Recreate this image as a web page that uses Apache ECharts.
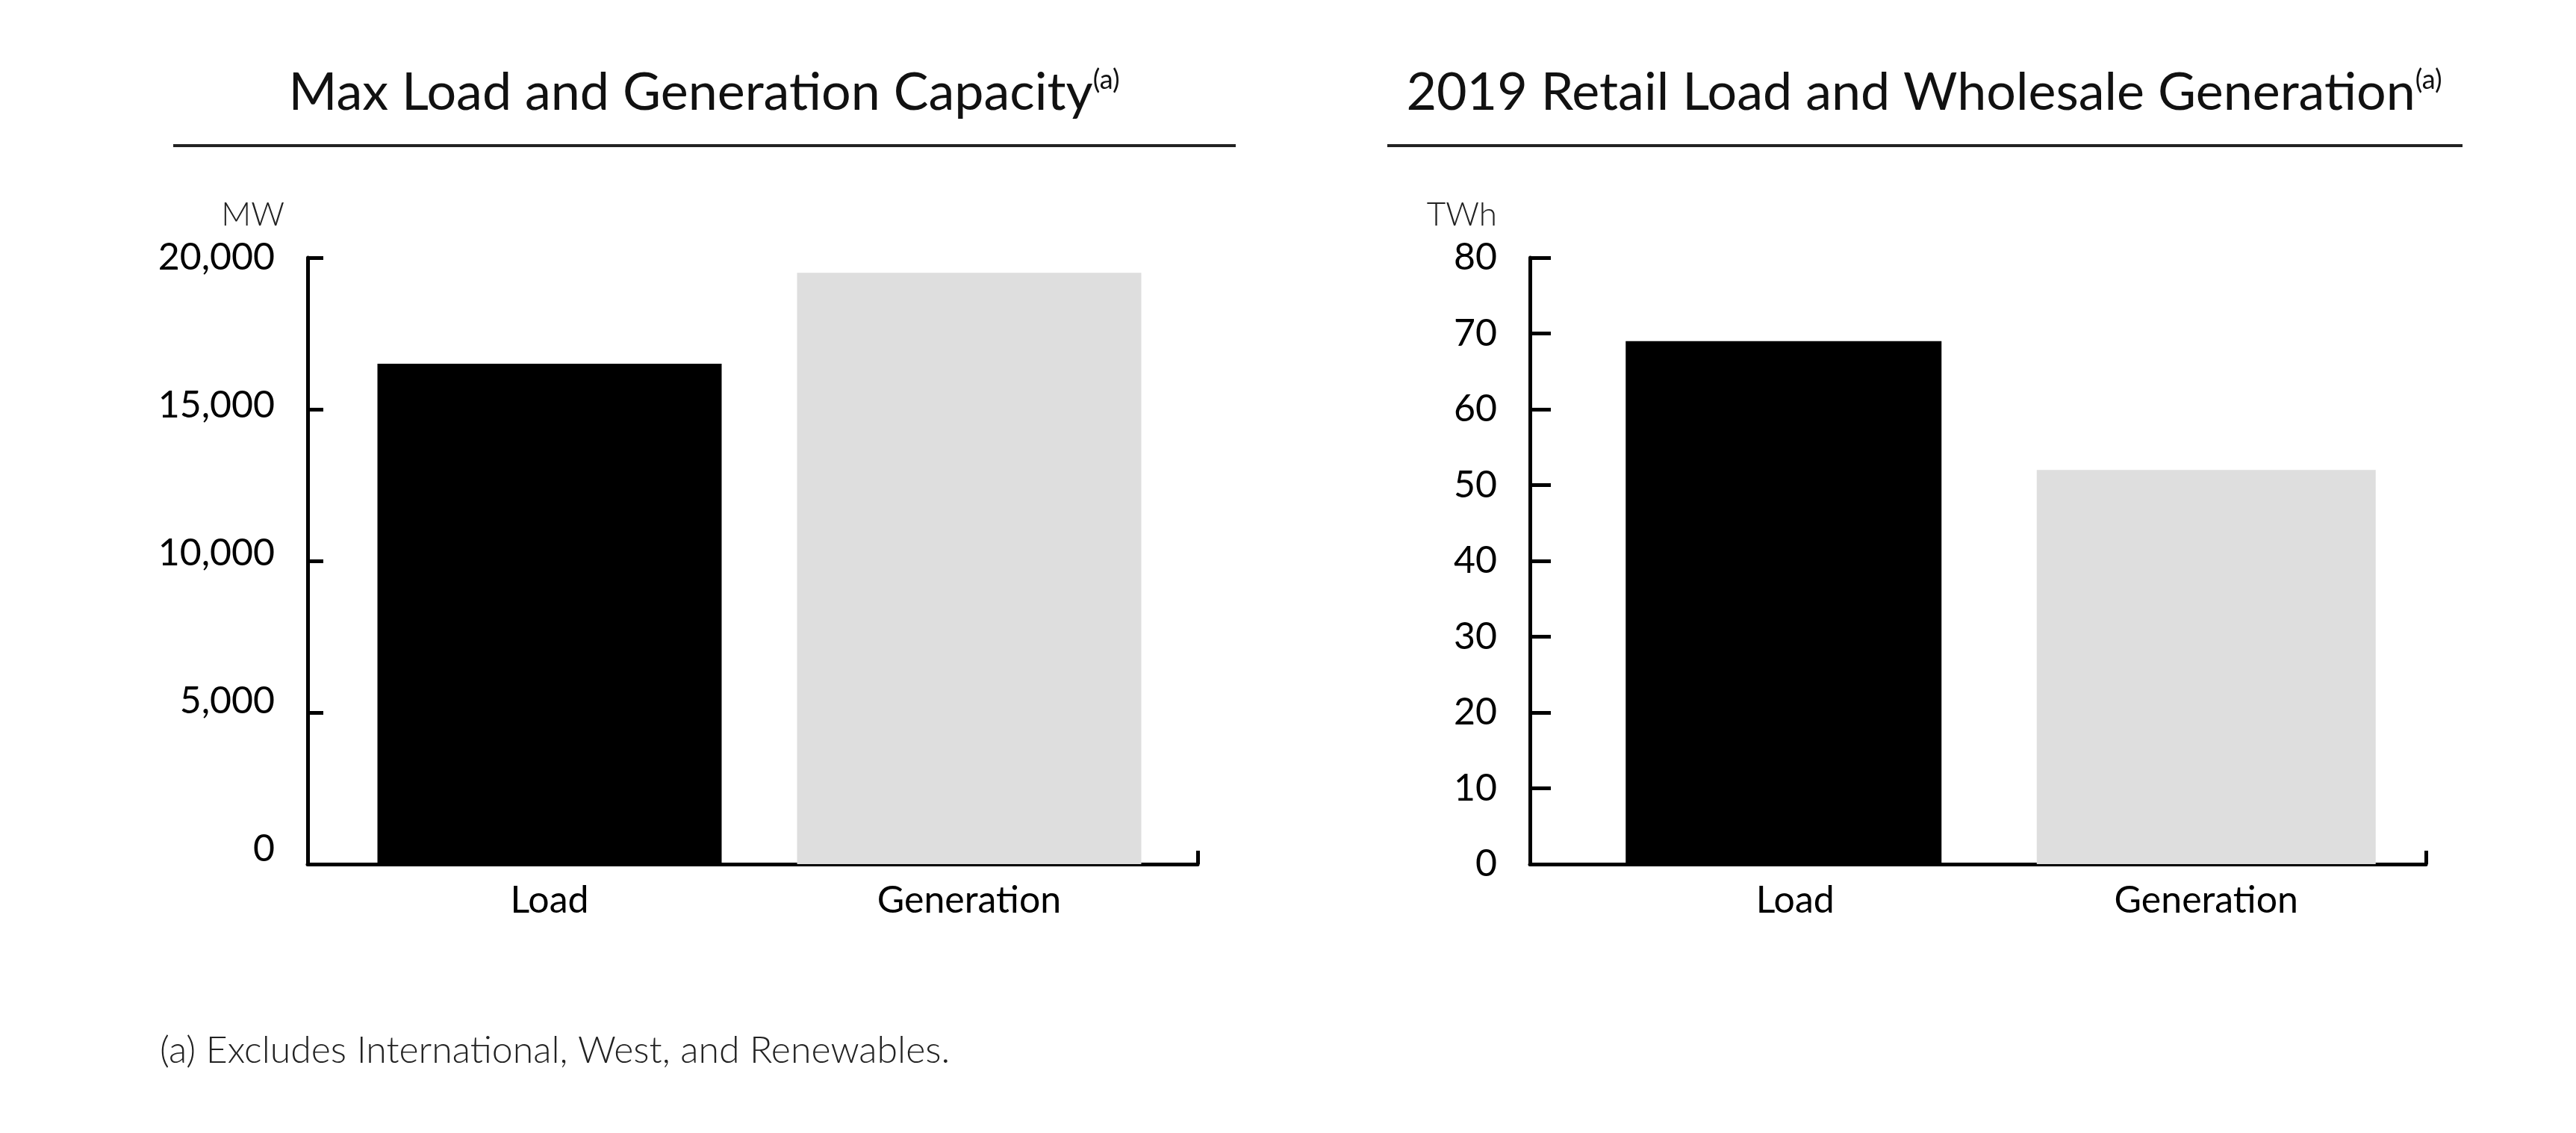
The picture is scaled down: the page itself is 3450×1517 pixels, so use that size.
<!DOCTYPE html>
<html>
<head>
<meta charset="utf-8">
<script src="https://cdn.jsdelivr.net/npm/echarts@6/dist/echarts.min.js"></script>
<style>
html,body{margin:0;padding:0;background:#fff;}
#chart{width:3450px;height:1517px;}
</style>
</head>
<body>
<div id="chart"></div>
<script>
// ---- data ----
const categories = ['Load', 'Generation'];
const capacityMW = [16500, 19500];          // Max Load and Generation Capacity
const energyTWh = [69, 52];                 // 2019 Retail Load and Wholesale Generation
const mwTicks = [0, 5000, 10000, 15000, 20000];
const twhTicks = [0, 10, 20, 30, 40, 50, 60, 70, 80];
const titleLeft = 'Max Load and Generation Capacity';
const titleRight = '2019 Retail Load and Wholesale Generation';
const footnote = '(a) Excludes International, West, and Renewables.';
const unitLeft = 'MW';
const unitRight = 'TWh';

const FONT = 'Lato, "Noto Sans", sans-serif';
const colors = ['#000000', '#dedede'];

const chart = echarts.init(document.getElementById('chart'), null, {renderer: 'canvas'});

function frameX(grid) {
  return {
    gridIndex: grid, type: 'value', min: 0, max: 1, interval: 1,
    axisLine: {show: true, onZero: false, lineStyle: {color: '#000', width: 5}},
    axisTick: {show: true, inside: true, length: 18, lineStyle: {color: '#000', width: 5}},
    axisLabel: {show: false}, splitLine: {show: false}
  };
}
function barX(grid) {
  return {
    gridIndex: grid, type: 'category', data: categories,
    axisLine: {show: false}, axisTick: {show: false}, splitLine: {show: false},
    axisLabel: {fontFamily: FONT, fontSize: 50, color: '#000', margin: 24}
  };
}
function hiddenY(grid, max) {
  return {gridIndex: grid, type: 'value', min: 0, max: max, show: false, splitLine: {show: false}};
}
function seriesFor(values, xIdx, yIdx, widths) {
  return categories.map((c, k) => ({
    type: 'bar', name: c, xAxisIndex: xIdx, yAxisIndex: yIdx,
    barWidth: widths[k], barGap: '-100%',
    itemStyle: {color: colors[k]},
    silent: true,
    data: categories.map((_, i) => (i === k ? values[i] : '-'))
  }));
}
function titleText(x, text) {
  return {
    type: 'text', x: x, y: 124,
    style: {
      text: '{m|' + text + '}{s|(a)}', align: 'center', verticalAlign: 'middle',
      rich: {
        m: {fontFamily: FONT, fontSize: 70, fill: '#111', color: '#111'},
        s: {fontFamily: FONT, fontSize: 36, fill: '#111', color: '#111', verticalAlign: 'top'}
      }
    }
  };
}

const option = {
  animation: false,
  backgroundColor: '#ffffff',
  grid: [
    {left: 412, top: 345, width: 1192, height: 812},  // 0 left frame
    {left: 455, top: 345, width: 1124, height: 812},  // 1 left bars
    {left: 412, top: 345, width: 1192, height: 812},  // 2 left labels
    {left: 2049, top: 345, width: 1200, height: 812}, // 3 right frame
    {left: 2129, top: 345, width: 1101, height: 812}  // 4 right bars
  ],
  xAxis: [
    frameX(0),
    barX(1),
    {gridIndex: 2, type: 'value', show: false, splitLine: {show: false}},
    frameX(3),
    barX(4)
  ],
  yAxis: [
    {
      gridIndex: 0, type: 'value', min: 0, max: mwTicks[mwTicks.length - 1], interval: mwTicks[1] - mwTicks[0],
      axisLine: {show: true, lineStyle: {color: '#000', width: 5}},
      axisTick: {show: true, inside: true, length: 21, lineStyle: {color: '#000', width: 5}},
      axisLabel: {show: false}, splitLine: {show: false}
    },
    hiddenY(1, mwTicks[mwTicks.length - 1]),
    {
      gridIndex: 2, type: 'value', min: -505, max: mwTicks[mwTicks.length - 1],
      axisLine: {show: false}, axisTick: {show: false}, splitLine: {show: false},
      axisLabel: {
        customValues: mwTicks, margin: 44, fontFamily: FONT, fontSize: 50, color: '#000',
        formatter: v => Number(v).toLocaleString('en-US')
      }
    },
    {
      gridIndex: 3, type: 'value', min: 0, max: twhTicks[twhTicks.length - 1], interval: twhTicks[1] - twhTicks[0],
      axisLine: {show: true, lineStyle: {color: '#000', width: 5}},
      axisTick: {show: true, inside: true, length: 28, lineStyle: {color: '#000', width: 5}},
      axisLabel: {margin: 44, fontFamily: FONT, fontSize: 50, color: '#000'},
      splitLine: {show: false}
    },
    hiddenY(4, twhTicks[twhTicks.length - 1])
  ],
  series: [
    ...seriesFor(capacityMW, 1, 1, [461, 461]),
    ...seriesFor(energyTWh, 4, 4, [423, 454])
  ],
  graphic: [
    titleText(943, titleLeft),
    titleText(2577, titleRight),
    {type: 'line', shape: {x1: 232, y1: 195, x2: 1655, y2: 195}, style: {stroke: '#222', lineWidth: 4}},
    {type: 'line', shape: {x1: 1858, y1: 195, x2: 3298, y2: 195}, style: {stroke: '#222', lineWidth: 4}},
    {
      type: 'text', x: 381, y: 288,
      style: {text: unitLeft, align: 'right', verticalAlign: 'middle', font: '300 44px ' + FONT, fill: '#222'}
    },
    {
      type: 'text', x: 2005, y: 288,
      style: {text: unitRight, align: 'right', verticalAlign: 'middle', font: '300 44px ' + FONT, fill: '#222'}
    },
    {
      type: 'text', x: 214, y: 1407,
      style: {text: footnote, align: 'left', verticalAlign: 'middle', font: '300 50px ' + FONT, fill: '#222'}
    }
  ]
};
chart.setOption(option);
</script>
</body>
</html>
